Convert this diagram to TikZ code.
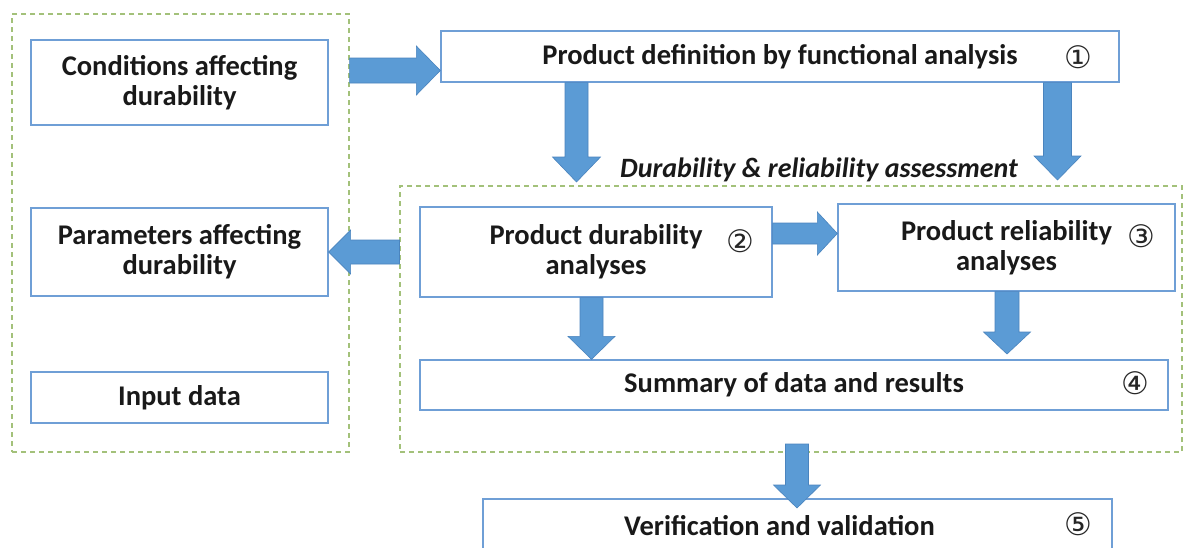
\documentclass[tikz,border=0pt]{standalone}
\usepackage{fontspec}
\setmainfont{Carlito}
\newfontfamily\circfont{DejaVu Sans}
\usetikzlibrary{calc}
\definecolor{boxblue}{HTML}{6F9FD6}
\definecolor{arrfill}{HTML}{5B9BD5}
\definecolor{arrline}{HTML}{4A84BE}
\definecolor{grpgreen}{HTML}{A3C17A}
\tikzset{
  box/.style={draw=boxblue, line width=1.3pt, fill=white, rectangle, align=center,
    font=\fontsize{28.5}{30}\selectfont\bfseries, text=black!90, inner sep=0pt},
  grp/.style={draw=grpgreen, line width=1.1pt, dash pattern=on 5pt off 4pt, rectangle, inner sep=0pt},
  fatarr/.style={fill=arrfill, draw=arrline, line width=0.6pt},
  circnum/.style={font=\circfont\fontsize{31}{31}\selectfont, text=black!85, inner sep=0pt},
}
% fat block arrows: #1 = shaft half width, #2 = head half width, #3 = head length
\newcommand\fatright[5]{\filldraw[fatarr] let \p1=(#4),\p2=(#5) in
  (\x1,\y1+#1pt) -- (\x2-#3pt,\y1+#1pt) -- (\x2-#3pt,\y1+#2pt) -- (\x2,\y1) --
  (\x2-#3pt,\y1-#2pt) -- (\x2-#3pt,\y1-#1pt) -- (\x1,\y1-#1pt) -- cycle;}
\newcommand\fatleft[5]{\filldraw[fatarr] let \p1=(#4),\p2=(#5) in
  (\x1,\y1+#1pt) -- (\x2+#3pt,\y1+#1pt) -- (\x2+#3pt,\y1+#2pt) -- (\x2,\y1) --
  (\x2+#3pt,\y1-#2pt) -- (\x2+#3pt,\y1-#1pt) -- (\x1,\y1-#1pt) -- cycle;}
\newcommand\fatdown[5]{\filldraw[fatarr] let \p1=(#4),\p2=(#5) in
  (\x1-#1pt,\y1) -- (\x1-#1pt,\y2+#3pt) -- (\x1-#2pt,\y2+#3pt) -- (\x1,\y2) --
  (\x1+#2pt,\y2+#3pt) -- (\x1+#1pt,\y2+#3pt) -- (\x1+#1pt,\y1) -- cycle;}
\begin{document}
\begin{tikzpicture}[x=1pt,y=1pt]
\useasboundingbox[fill=white] (0,0) rectangle (1184,-547);
% groups
\node[grp, minimum width=337pt, minimum height=438pt] (lgrp) at (180.5,-233) {};
\node[grp, minimum width=782pt, minimum height=266pt] (rgrp) at (791,-319) {};
% left boxes
\node[box, minimum width=297pt, minimum height=85pt] (cond) at (179.5,-82.5) {Conditions affecting\\durability};
\node[box, minimum width=297pt, minimum height=88pt] (param) at (179.5,-252) {Parameters affecting\\durability};
\node[box, minimum width=297pt, minimum height=51pt] (input) at (179.5,-397.5) {Input data};
% right boxes
\node[box, minimum width=678pt, minimum height=51pt] (pd) at (780,-56.5) {Product definition by functional analysis};
\node[box, minimum width=352pt, minimum height=90pt] (dur) at (596,-252) {Product durability\\analyses};
\node[box, minimum width=337pt, minimum height=87pt] (rel) at (1006.5,-247.5) {Product reliability\\analyses};
\node[box, minimum width=748pt, minimum height=50pt] (sum) at (794,-385) {Summary of data and results};
\node[box, minimum width=629pt, minimum height=53pt] (ver) at (797.5,-525.5) {Verification and validation\hspace*{36pt}};
% circled numbers
\node[circnum] (n1) at (1078,-57) {①};
\node[circnum] (n2) at (740,-241) {②};
\node[circnum] (n3) at (1141,-236) {③};
\node[circnum] (n4) at (1135,-383) {④};
\node[circnum] (n5) at (1078,-524) {⑤};
% group title
\node[font=\fontsize{28}{28}\selectfont\bfseries\itshape, text=black!90, inner sep=0pt] (title) at (819,-170) {Durability \& reliability assessment};
% arrow anchor coordinates
\coordinate (a1s) at (lgrp.east |- 0,-70.5);
\coordinate (a2s) at (pd.south -| 576.5,0);
\coordinate (a2e) at (576.5,-182);
\coordinate (a3s) at (pd.south -| 1057.5,0);
\coordinate (a3e) at (1057.5,-180);
\coordinate (a4s) at (rgrp.west |- param.east);
\coordinate (a5s) at (dur.east |- 0,-233.5);
\coordinate (a6s) at (dur.south -| 591.5,0);
\coordinate (a7s) at (rel.south -| 1007,0);
\coordinate (a8s) at (797,-444);
% arrows
\fatright{12.5}{24.5}{24}{a1s}{pd.west}
\fatdown{11.5}{24}{25}{a2s}{a2e}
\fatdown{14}{23.5}{24}{a3s}{a3e}
\fatleft{12}{22}{22}{a4s}{param.east}
\fatright{10.5}{21.5}{20}{a5s}{rel.west}
\fatdown{11.5}{23.5}{23}{a6s}{sum.north -| a6s}
\fatdown{12}{23.5}{22}{a7s}{0,-354 -| a7s}
\fatdown{11.5}{23.5}{23}{a8s}{0,-508 -| a8s}
\end{tikzpicture}
\end{document}
